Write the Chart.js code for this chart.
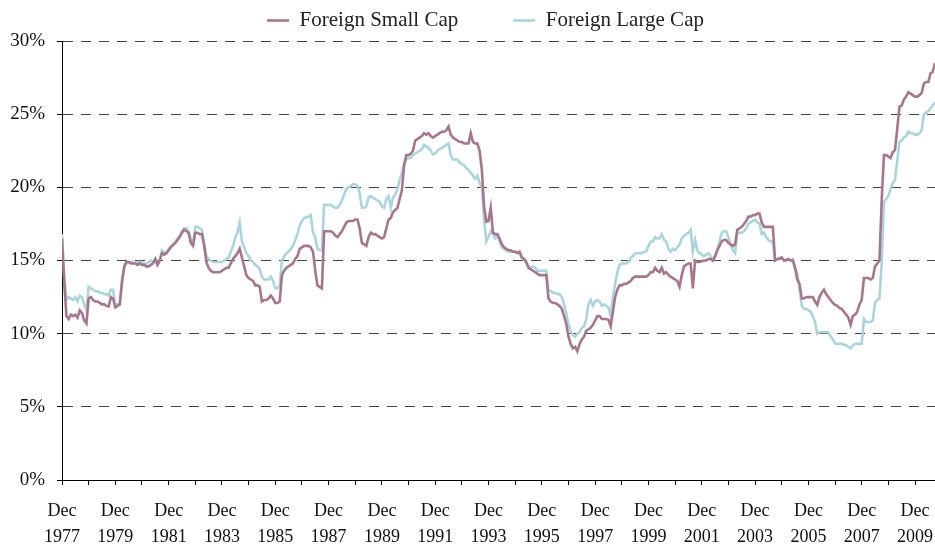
<!DOCTYPE html>
<html>
<head>
<meta charset="utf-8">
<title>Foreign Small Cap vs Foreign Large Cap</title>
<script src="https://cdn.jsdelivr.net/npm/chart.js@4.4.1/dist/chart.umd.min.js"></script>
<style>
  html, body { margin: 0; padding: 0; background: #fff; }
  canvas { display: block; }
</style>
</head>
<body>
<canvas id="lineChart" width="935" height="549"></canvas>
<script>
// monthly values, first point = Dec 1977
const seriesNames = ['Foreign Small Cap', 'Foreign Large Cap'];
const yearLabels = ['1977', '1979', '1981', '1983', '1985', '1987', '1989', '1991', '1993',
                    '1995', '1997', '1999', '2001', '2003', '2005', '2007', '2009'];
const yTicks = [0, 5, 10, 15, 20, 25, 30];

const smallCap = [
  16.5, 13.5, 11.2, 11.0, 11.3, 11.2, 11.3, 11.1, 11.6, 11.4, 10.9, 10.7,
  12.4, 12.5, 12.3, 12.2, 12.2, 12.1, 12.0, 12.0, 11.9, 11.85, 12.5, 12.4,
  11.8, 11.9, 12.0, 13.5, 14.6, 14.9, 14.9, 14.8, 14.8, 14.8, 14.7, 14.8,
  14.7, 14.7, 14.6, 14.6, 14.7, 14.8, 15.1, 14.7, 15.0, 15.5, 15.4, 15.5,
  15.7, 15.9, 16.05, 16.2, 16.4, 16.6, 16.9, 17.1, 17.0, 16.9, 16.2, 16.0,
  16.9, 16.9, 16.8, 16.8, 16.0, 14.9, 14.5, 14.3, 14.2, 14.2, 14.2, 14.2,
  14.3, 14.4, 14.5, 14.5, 14.8, 15.1, 15.3, 15.5, 15.8, 15.2, 14.6, 14.0,
  13.8, 13.7, 13.6, 13.3, 13.3, 13.2, 12.2, 12.3, 12.3, 12.4, 12.6, 12.4,
  12.1, 12.1, 12.2, 14.0, 14.3, 14.5, 14.6, 14.7, 14.8, 15.1, 15.3, 15.8,
  15.9, 16.0, 16.0, 16.0, 15.9, 15.6, 14.3, 13.3, 13.2, 13.1, 17.0, 17.0,
  17.0, 17.0, 16.9, 16.7, 16.6, 16.8, 17.0, 17.3, 17.6, 17.7, 17.7, 17.7,
  17.8, 17.8, 17.2, 16.2, 16.1, 16.0, 16.6, 16.9, 16.8, 16.8, 16.7, 16.6,
  16.5, 16.6, 17.2, 17.8, 17.9, 18.3, 18.45, 18.6, 19.2, 19.8, 21.5, 22.2,
  22.2, 22.3, 22.5, 23.2, 23.3, 23.4, 23.5, 23.7, 23.6, 23.7, 23.5, 23.4,
  23.5, 23.6, 23.7, 23.8, 23.8, 23.9, 24.15, 23.6, 23.4, 23.3, 23.2, 23.1,
  23.1, 23.0, 23.0, 23.0, 23.7, 23.1, 23.0, 23.0, 22.5, 21.2, 18.7, 17.65,
  17.7, 18.6, 16.9, 16.8, 16.8, 16.5, 16.1, 15.9, 15.8, 15.7, 15.7, 15.6,
  15.6, 15.5, 15.6, 15.2, 15.1, 14.9, 14.5, 14.4, 14.3, 14.2, 14.1, 14.0,
  14.0, 14.0, 14.0, 12.4, 12.2, 12.1, 12.1, 12.0, 11.9, 11.7, 11.2, 10.7,
  9.8, 9.3, 9.0, 9.1, 8.8, 9.3, 9.6, 9.8, 10.2, 10.3, 10.4, 10.6,
  10.9, 11.2, 11.2, 11.0, 11.0, 11.0, 10.95, 10.5, 11.5, 12.5, 13.0, 13.3,
  13.3, 13.4, 13.4, 13.5, 13.6, 13.8, 13.9, 13.9, 13.9, 13.9, 13.9, 13.9,
  14.0, 14.2, 14.2, 14.5, 14.3, 14.2, 14.5, 14.1, 14.2, 14.0, 13.9, 13.8,
  13.7, 13.6, 13.2, 14.0, 14.6, 14.7, 14.8, 14.8, 13.1, 15.0, 14.9, 14.9,
  14.95, 15.0, 15.0, 15.1, 15.1, 15.0, 15.3, 15.7, 16.0, 16.3, 16.4, 16.4,
  16.2, 16.1, 16.0, 16.1, 17.1, 17.2, 17.3, 17.5, 17.7, 18.0, 18.0, 18.1,
  18.1, 18.2, 18.2, 17.6, 17.3, 17.3, 17.3, 17.3, 17.3, 15.0, 15.1, 15.1,
  15.2, 15.0, 15.0, 15.1, 15.0, 15.0, 14.5, 13.7, 13.4, 12.4, 12.4, 12.5,
  12.5, 12.5, 12.5, 12.2, 11.97, 12.5, 12.8, 13.0, 12.7, 12.5, 12.3, 12.1,
  11.97, 11.9, 11.75, 11.7, 11.5, 11.3, 11.1, 10.6, 11.2, 11.3, 11.5, 12.0,
  12.3, 13.8, 13.8, 13.8, 13.7, 13.8, 14.6, 14.8, 15.0, 19.1, 22.2, 22.2,
  22.1, 22.0, 22.4, 22.55, 24.0, 25.5, 25.6, 26.0, 26.2, 26.5, 26.4, 26.3,
  26.2, 26.2, 26.3, 26.45, 27.1, 27.2, 27.2, 27.8, 27.9, 28.5
];

const largeCap = [
  16.8, 14.0, 12.3, 12.5, 12.4, 12.3, 12.5, 12.2, 12.6, 12.5, 12.0, 11.6,
  13.2, 13.1, 13.0, 12.9, 12.9, 12.8, 12.8, 12.7, 12.7, 12.6, 13.0, 13.0,
  11.9, 12.0, 12.0, 13.6, 14.5, 14.8, 14.9, 14.9, 14.9, 14.8, 14.9, 14.9,
  14.9, 14.8, 14.8, 14.9, 15.0, 14.9, 15.1, 14.7, 15.0, 15.7, 15.6, 15.5,
  15.8, 16.0, 16.1, 16.3, 16.5, 16.7, 17.0, 17.2, 17.2, 17.0, 16.4, 16.3,
  17.3, 17.3, 17.2, 17.1, 16.2, 15.3, 15.1, 15.0, 14.9, 14.9, 14.9, 14.9,
  14.9, 15.0, 15.1, 15.2, 15.6, 16.0, 16.6, 16.9, 17.6, 16.3, 15.9, 15.5,
  15.3, 15.0, 14.9, 14.7, 14.6, 14.4, 13.9, 13.7, 13.7, 13.7, 13.9, 13.6,
  13.1, 13.1, 13.3, 15.0, 15.3, 15.5, 15.6, 15.8, 16.0, 16.4, 16.8, 17.4,
  17.7, 17.9, 17.95, 18.0, 18.1, 16.9, 16.6, 15.8, 15.7, 15.7, 18.8, 18.8,
  18.8, 18.8, 18.7, 18.6, 18.6, 18.8, 19.1, 19.5, 19.9, 20.0, 20.1, 20.2,
  20.2, 20.1, 19.6, 18.6, 18.6, 18.7, 19.3, 19.4, 19.3, 19.2, 19.1, 19.0,
  18.7, 18.6, 19.2, 19.4, 18.6, 19.3, 19.5, 19.9, 20.5, 21.0, 21.6, 21.9,
  22.0, 22.0, 22.2, 22.3, 22.4, 22.5, 22.6, 22.9, 22.8, 22.7, 22.5, 22.25,
  22.3, 22.5, 22.6, 22.7, 22.8, 22.9, 23.0, 22.2, 21.9, 21.9, 21.9, 21.7,
  21.6, 21.5, 21.3, 21.2, 21.0, 20.8, 20.6, 20.8, 20.3, 20.0, 17.8, 16.3,
  16.6, 17.0, 16.8, 16.5, 16.7, 16.3, 15.9, 15.8, 15.7, 15.6, 15.6, 15.6,
  15.6, 15.6, 15.5, 15.2, 15.1, 14.8, 14.6, 14.5, 14.6, 14.5, 14.3, 14.3,
  14.3, 14.3, 14.3, 13.0, 12.9, 12.8, 12.8, 12.7, 12.7, 12.5, 12.0, 11.4,
  10.6, 10.2, 9.9, 9.8, 10.0, 10.1, 10.4, 10.5, 11.0, 12.0, 12.3, 11.9,
  12.2, 12.3, 12.2, 11.9, 12.0, 11.9, 11.8, 11.2, 12.5, 13.4, 14.2, 14.7,
  14.8, 14.8, 14.8, 14.9, 15.2, 15.3, 15.5, 15.5, 15.5, 15.5, 15.6, 15.6,
  16.0, 16.3, 16.3, 16.6, 16.5, 16.5, 16.8, 16.4, 16.3, 15.8, 15.6, 15.8,
  15.7, 15.9, 16.1, 16.5, 16.7, 16.8, 16.9, 17.1, 15.6, 16.4, 15.7, 15.5,
  15.4, 15.3, 15.4, 15.5, 15.3, 15.0, 15.3, 15.7, 16.3, 16.9, 17.0, 17.0,
  16.6, 16.1, 15.7, 15.5, 16.9, 16.9, 16.9, 17.0, 17.2, 17.5, 17.6, 17.7,
  17.8, 17.6, 17.5, 16.8, 16.9, 16.6, 16.4, 16.3, 16.3, 15.0, 15.1, 15.2,
  15.2, 15.0, 15.1, 15.1, 15.0, 15.1, 14.5, 14.1, 13.1, 11.9, 11.7, 11.7,
  11.6, 11.5, 11.2, 10.8, 10.0, 10.1, 10.1, 10.1, 10.1, 10.1, 9.8, 9.6,
  9.34, 9.3, 9.3, 9.3, 9.25, 9.2, 9.1, 9.0, 9.2, 9.3, 9.3, 9.3,
  9.3, 11.0, 10.8, 10.8, 10.8, 10.9, 12.1, 12.3, 12.4, 14.8, 19.0, 19.2,
  19.4, 19.9, 20.3, 20.5, 21.8, 23.1, 23.2, 23.4, 23.5, 23.8, 23.7, 23.7,
  23.6, 23.6, 23.7, 23.9, 25.0, 25.1, 25.2, 25.4, 25.6, 25.8
];

const puntos = (arr) => arr.map((v, i) => ({ x: i, y: v }));

const lineChart = () => {
    Chart.defaults.font.family = '"Liberation Serif", "Times New Roman", serif';
    Chart.defaults.font.size = 18;
    Chart.defaults.color = '#1a1a1a';

    const data = {
        datasets: [{
            label: seriesNames[0],
            data: puntos(smallCap),
            borderColor: '#a6768d',
            backgroundColor: '#a6768d',
            borderWidth: 2.6,
            pointRadius: 0,
            tension: 0
        }, {
            label: seriesNames[1],
            data: puntos(largeCap),
            borderColor: '#aad5dc',
            backgroundColor: '#aad5dc',
            borderWidth: 2.6,
            pointRadius: 0,
            tension: 0
        }]
    };

    const config = {
        type: 'line',
        data,
        options: {
            responsive: false,
            animation: false,
            // legend sits in the top band, plot top must land on y=41;
            // negative right padding only widens the legend box (shifts it right)
            layout: { padding: { top: -45, left: 0, right: -36, bottom: 0 } },
            plugins: {
                legend: {
                    position: 'top',
                    labels: {
                        usePointStyle: true,
                        pointStyle: 'line',
                        pointStyleWidth: 22,
                        padding: 55,
                        color: '#222',
                        font: { size: 21 }
                    }
                },
                tooltip: { enabled: false }
            },
            scales: {
                x: {
                    type: 'linear',
                    min: 0,
                    max: smallCap.length - 1,
                    afterFit: (scale) => {
                        scale.paddingRight = 0;
                        scale.height = 69;
                    },
                    grid: { drawOnChartArea: false, tickLength: 5, tickColor: '#000' },
                    border: { color: '#000', width: 1 },
                    ticks: {
                        stepSize: 12,
                        includeBounds: false,
                        autoSkip: false,
                        maxRotation: 0,
                        padding: 14,
                        color: '#111',
                        font: { lineHeight: 1.4 },
                        callback: (value) => value % 24 === 0 ? ['Dec', yearLabels[value / 24]] : ''
                    }
                },
                y: {
                    min: yTicks[0],
                    max: yTicks[yTicks.length - 1],
                    afterFit: (scale) => { scale.width = 62; },
                    grid: { color: '#444', lineWidth: 1, tickLength: 5, tickColor: '#000' },
                    border: { color: '#000', width: 1, dash: [10, 8] },
                    ticks: {
                        stepSize: 5,
                        padding: 12,
                        color: '#111',
                        font: { size: 19 },
                        callback: (v) => v + '%'
                    }
                }
            }
        }
    };

    new Chart(document.getElementById('lineChart'), config);
};

document.addEventListener('DOMContentLoaded', () => {
    lineChart();
});
</script>
</body>
</html>
